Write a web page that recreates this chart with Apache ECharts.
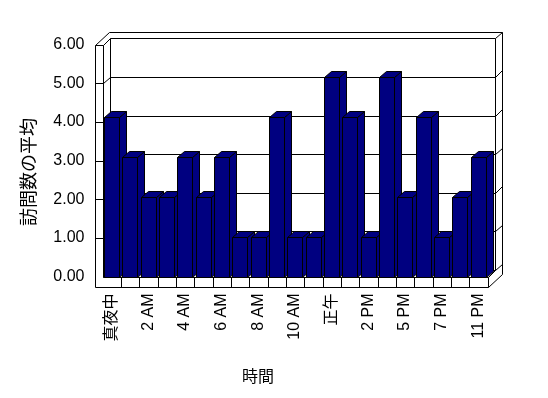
<!DOCTYPE html>
<html><head><meta charset="utf-8">
<script src="https://cdn.jsdelivr.net/npm/echarts@6/dist/echarts.min.js"></script>
<style>html,body{margin:0;padding:0;background:#fff}#c{width:548px;height:398px}</style>
</head><body><div id="c"></div>
<script>
// ---- data ----
const categories = ['真夜中','1 AM','2 AM','3 AM','4 AM','5 AM','6 AM','7 AM','8 AM','9 AM','10 AM','11 AM','正午','1 PM','2 PM','3 PM','5 PM','6 PM','7 PM','9 PM','11 PM'];
const visits = [4,3,2,2,3,2,3,1,1,4,1,1,5,4,1,5,2,4,1,2,3];
const yTicks = [0,1,2,3,4,5,6];
const yTitle = '訪問数の平均';
const xTitle = '時間';

// ---- style ----
const FONT_FAMILY = '"Liberation Sans","Noto Sans CJK JP",sans-serif';
const D = [7.7, -6.4];      // plot depth
const W = [6.5, -6.6];      // wall thickness
const SIDE = 8;             // side wall thickness
const FLOOR = 10;           // floor thickness
const BD = [7, -6];         // bar depth
const NAVY = '#000080';

const p = v => Math.round(v) + 0.5;
const L = (x1,y1,x2,y2) => ({type:'line', silent:true,
  shape:{x1:p(x1),y1:p(y1),x2:p(x2),y2:p(y2)}, style:{stroke:'#000', lineWidth:1}});

function renderWalls(params, api){
  const w = api.size([1,0])[0];
  const n = categories.length;
  const xL = api.coord([0, 0])[0] - w/2;
  const xR = api.coord([n-1, 0])[0] + w/2;
  const yF = v => api.coord([0, v])[1];
  const vTop = yTicks[yTicks.length-1], vBot = yTicks[0];
  const y6 = yF(vTop), y0 = yF(vBot);
  const c = [];
  // back wall gridlines + edges
  yTicks.forEach(v => c.push(L(xL+D[0], yF(v)+D[1], xR+D[0], yF(v)+D[1])));
  c.push(L(xL+D[0], y6+D[1], xL+D[0], y0+D[1]));
  c.push(L(xR+D[0], y6+D[1], xR+D[0], y0+D[1]));
  // side wall inner face
  yTicks.forEach(v => c.push(L(xL, yF(v), xL+D[0], yF(v)+D[1])));
  c.push(L(xL, y6, xL, y0));
  // side wall front face
  c.push(L(xL-SIDE, y6, xL-SIDE, y0+FLOOR));
  yTicks.forEach(v => { if (v !== vBot) c.push(L(xL-SIDE, yF(v), xL, yF(v))); });
  // top of walls
  c.push(L(xL-SIDE, y6, xL-SIDE+D[0]+W[0], y6+D[1]+W[1]));
  c.push(L(xL-SIDE+D[0]+W[0], y6+D[1]+W[1], xR+D[0]+W[0], y6+D[1]+W[1]));
  // right side of back wall
  c.push(L(xR+D[0]+W[0], y6+D[1]+W[1], xR+D[0]+W[0], y0+FLOOR+D[1]+W[1]));
  yTicks.forEach(v => c.push(L(xR+D[0], yF(v)+D[1], xR+D[0]+W[0], yF(v)+D[1]+W[1])));
  // floor
  c.push(L(xL, y0, xR, y0));
  c.push(L(xL-SIDE, y0+FLOOR, xR, y0+FLOOR));
  for (let k = 1; k <= n; k++) c.push(L(xL+k*w, y0, xL+k*w, y0+FLOOR));
  c.push(L(xR, y0+FLOOR, xR+D[0]+W[0], y0+FLOOR+D[1]+W[1]));
  c.push(L(xR, y0, xR+D[0], y0+D[1]));
  return {type:'group', children:c};
}

function renderBar(params, api){
  const idx = api.value(0), val = api.value(1);
  const top = api.coord([idx, val]);
  const base = api.coord([idx, 0]);
  const w = api.size([1,0])[0];
  const x0 = p(top[0] - w/2 + 1.5), x1 = p(top[0] - w/2 + 1.5 + w*0.82);
  const yT = p(top[1]), yB = p(base[1]);
  const bx = BD[0], by = BD[1];
  const st = {fill: NAVY, stroke:'#000', lineWidth:1};
  return {type:'group', children:[
    {type:'polygon', shape:{points:[[x1,yB],[x1,yT],[x1+bx,yT+by],[x1+bx,yB+by]]}, style:st},
    {type:'polygon', shape:{points:[[x0,yT],[x0+bx,yT+by],[x1+bx,yT+by],[x1,yT]]}, style:st},
    {type:'rect', shape:{x:x0, y:yT, width:x1-x0, height:yB-yT}, style:st}
  ]};
}

const chart = echarts.init(document.getElementById('c'), null, {renderer:'canvas'});
chart.setOption({
  animation:false,
  backgroundColor:'#fff',
  grid:{left:102.5, right:60.5, top:44.7, bottom:121.5, outerBoundsMode:'none'},
  xAxis:{type:'category', data:categories, boundaryGap:true,
    axisLine:{show:false}, axisTick:{show:false}, splitLine:{show:false},
    axisLabel:{interval:1, rotate:90, margin:17, color:'#000', fontSize:16, fontFamily:FONT_FAMILY}},
  yAxis:[
    {type:'value', min:yTicks[0], max:yTicks[yTicks.length-1], interval:1,
     axisLine:{show:false}, axisTick:{show:false}, splitLine:{show:false},
     axisLabel:{margin:18, color:'#000', fontSize:16, fontFamily:FONT_FAMILY, formatter:v => v.toFixed(2)}},
    {type:'value', min:0, max:5.82, show:false, splitLine:{show:false}}
  ],
  graphic:[
    {type:'text', x:28, y:172, rotation:Math.PI/2,
     style:{text:yTitle, fill:'#000', font:'18px "Noto Sans CJK JP"', align:'center', verticalAlign:'middle'}},
    {type:'text', x:258, y:376,
     style:{text:xTitle, fill:'#000', font:'16px "Noto Sans CJK JP"', align:'center', verticalAlign:'middle'}}
  ],
  series:[
    {type:'custom', name:'walls', yAxisIndex:0, z:1, renderItem:renderWalls, data:[[0,0]], silent:true, clip:false},
    {type:'custom', name:'bars', yAxisIndex:1, z:2, renderItem:renderBar, clip:false,
     encode:{x:0, y:1}, data:visits.map((v,i) => [i, v])}
  ]
});
</script></body></html>
